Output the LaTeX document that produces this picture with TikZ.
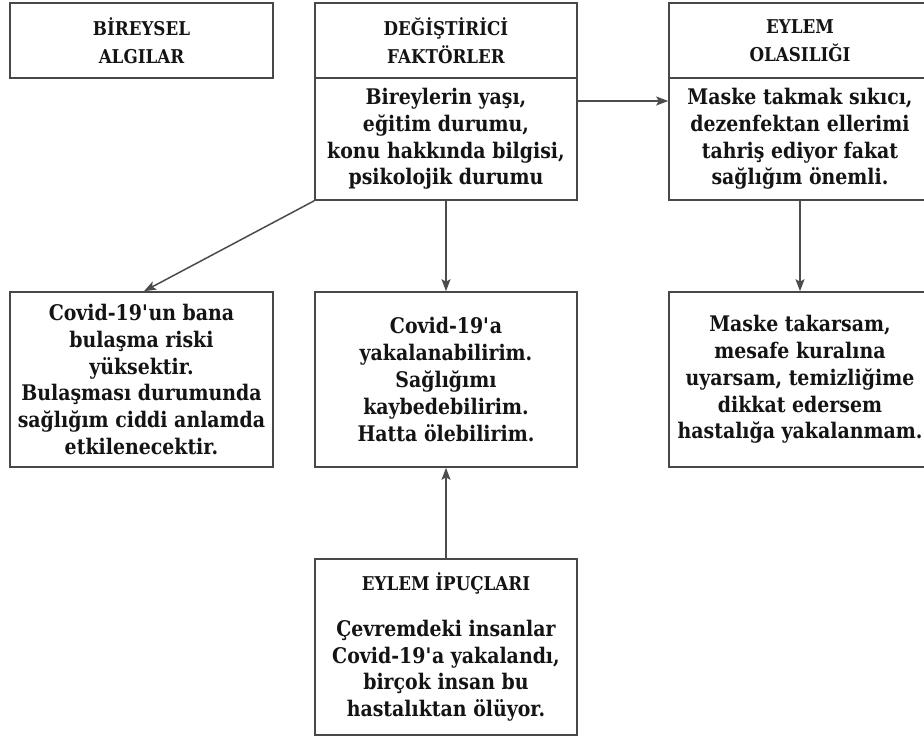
\documentclass[tikz,border=0pt]{standalone}
\usepackage{fontspec}
\setmainfont{DejaVu Serif}[FakeStretch=0.88]
\usetikzlibrary{arrows.meta}
\definecolor{ink}{HTML}{141414}
\definecolor{frame}{HTML}{484848}
\definecolor{wire}{HTML}{4C4C4C}
\newcommand\boxbody{\bfseries\fontsize{21.5}{26.8}\selectfont}
\newcommand\boxhead{\bfseries\fontsize{19}{28.5}\selectfont}
\newcommand\apo{\textquotesingle}
\begin{document}
\begin{tikzpicture}[x=1pt,y=-1pt,
  panel/.style={draw=frame, line width=1.6pt, fill=white, inner sep=0pt,
    align=center, text=ink, minimum width=262pt},
  headbox/.style={panel, minimum height=75pt, font=\boxhead},
  bodybox/.style={panel, font=\boxbody},
  link/.style={draw=wire, line width=1.5pt,
    -{Stealth[length=12pt,width=9pt,inset=2.5pt]}}]
\useasboundingbox (0,0) rectangle (924,738);
\clip (0,0) rectangle (924,738);
\fill[white] (0,0) rectangle (924,738);

% top row: headings, with their contents below
\node[headbox, minimum width=263pt] (alg) at (141.5,40.5) {BİREYSEL\\ALGILAR};
\node[headbox] (degT) at (446,40.5) {DEĞİŞTİRİCİ\\FAKTÖRLER};
\node[bodybox, minimum height=122pt] (degB) at (446,139)
  {Bireylerin yaşı,\\eğitim durumu,\\konu hakkında bilgisi,\\psikolojik durumu};
\node[headbox] (eyT) at (800,40.5) {EYLEM\\OLASILIĞI};
\node[bodybox, minimum height=122pt] (eyB) at (800,139)
  {Maske takmak sıkıcı,\\dezenfektan ellerimi\\tahriş ediyor fakat\\sağlığım önemli.};

% middle row
\node[bodybox, minimum width=263pt, minimum height=175pt] (risk) at (141.5,379.5)
  {Covid-19\apo un bana\\bulaşma riski\\yüksektir.\\Bulaşması durumunda\\sağlığım ciddi anlamda\\etkilenecektir.};
\node[bodybox, minimum height=175pt] (threat) at (446,379.5)
  {Covid-19\apo a\\yakalanabilirim.\\Sağlığımı\\kaybedebilirim.\\Hatta ölebilirim.};
\node[bodybox, minimum height=175pt] (act) at (800,379.5)
  {Maske takarsam,\\mesafe kuralına\\uyarsam, temizliğime\\dikkat edersem\\hastalığa yakalanmam.};

% bottom: cues to action
\node[bodybox, minimum height=176pt] (cue) at (446,647)
  {{\boxhead EYLEM İPUÇLARI}\\[19pt]Çevremdeki insanlar\\Covid-19\apo a yakalandı,\\birçok insan bu\\hastalıktan ölüyor.};

% connectors
\draw[link] (degB.east |- 0,101) -- (eyB.west |- 0,101);
\draw[link] (degB.south west) -- ([xshift=2.5pt]risk.north);
\draw[link] (degB.south) -- (threat.north);
\draw[link] (eyB.south) -- (act.north);
\draw[link] (cue.north) -- (threat.south);
\end{tikzpicture}
\end{document}
